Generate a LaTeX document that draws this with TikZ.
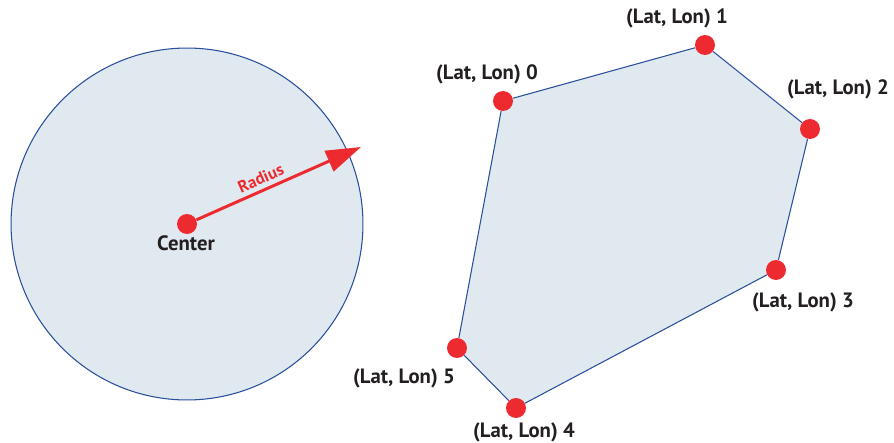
\documentclass[tikz,border=0pt]{standalone}
\usepackage{fontspec}
\setmainfont{PT Sans}
\usetikzlibrary{arrows.meta,backgrounds}
\definecolor{areafill}{HTML}{E0E9F0}
\definecolor{edgeblue}{HTML}{2A4F9C}
\definecolor{ptred}{HTML}{EC2A2F}
\definecolor{txt}{HTML}{231F20}

\begin{document}
\begin{tikzpicture}[x=0.02cm,y=-0.02cm]
				\tikzstyle{pt}=[circle,fill=ptred,inner sep=0pt,minimum size=0.4cm]
				\tikzstyle{lab}=[text=txt,font=\fontsize{11.8}{13}\selectfont\bfseries,inner sep=0pt]
				\tikzstyle{area}=[fill=areafill,draw=edgeblue,line width=0.6pt]

				\useasboundingbox (0,0) rectangle (894,443);

				% circle area
				\node[pt] (c) at (187,224) {};
				\coordinate (rtip) at (361,147);
				\draw[ptred,line width=1.7pt,-{Triangle[length=0.7cm,width=0.44cm]}] (c) -- (rtip)
					node[pos=0.42,sloped,above=2.5pt,inner sep=0pt,text=ptred,font=\fontsize{9.5}{11}\selectfont\bfseries] (rlab) {Radius};
				\node[lab] (clab) at (186,243) {Center};

				% polygon points
				\node[pt] (p0) at (503,101) {};
				\node[pt] (p1) at (705,45) {};
				\node[pt] (p2) at (810,129) {};
				\node[pt] (p3) at (776,270) {};
				\node[pt] (p4) at (516,408) {};
				\node[pt] (p5) at (457,348) {};
				\foreach \from/\to in {p0/p1,p1/p2,p2/p3,p3/p4,p4/p5,p5/p0}
				\draw [edgeblue,line width=0.6pt] (\from) -- (\to);

				\begin{scope}[on background layer]
				\draw[area] (c.center) circle [radius=3.52cm];
				\fill[areafill] (p0.center) -- (p1.center) -- (p2.center) -- (p3.center) -- (p4.center) -- (p5.center) -- cycle;
				\end{scope}

				\node[lab] (l0) at (487,74) {(Lat, Lon) 0};
				\node[lab] (l1) at (677,18) {(Lat, Lon) 1};
				\node[lab] (l2) at (838,89) {(Lat, Lon) 2};
				\node[lab] (l3) at (803,302) {(Lat, Lon) 3};
				\node[lab] (l4) at (524,432) {(Lat, Lon) 4};
				\node[lab] (l5) at (404,378) {(Lat, Lon) 5};
			\end{tikzpicture}
\end{document}
